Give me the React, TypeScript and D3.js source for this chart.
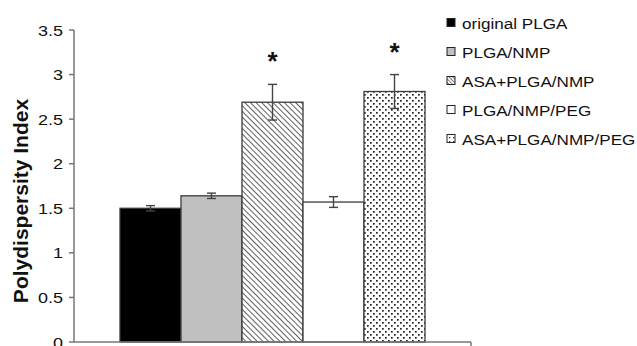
import React from "react";
import * as d3 from "d3";

// values
const categories = ["original PLGA", "PLGA/NMP", "ASA+PLGA/NMP", "PLGA/NMP/PEG", "ASA+PLGA/NMP/PEG"];
const values = [1.5, 1.64, 2.69, 1.57, 2.81];
const errors = [0.03, 0.03, 0.2, 0.06, 0.19];
const significant = [false, false, true, false, true];
const yTicks = [0, 0.5, 1, 1.5, 2, 2.5, 3, 3.5];
const fills = ["#000000", "#c0c0c0", "url(#hatch)", "#ffffff", "url(#dots)"];
const legendFills = ["#000000", "#c0c0c0", "url(#hatchSm)", "#ffffff", "url(#dotsSm)"];

const width = 637;
const height = 346;
const plot = { left: 74, right: 471, top: 30, bottom: 342 };

const App = () => {
  const y = d3.scaleLinear().domain([0, 3.5]).range([plot.bottom, plot.top]);
  const x = d3
    .scaleBand<string>()
    .domain(categories)
    .range([plot.left, plot.right])
    .paddingInner(0)
    .paddingOuter(0.754);
  const bw = x.bandwidth();
  const font = "Liberation Sans, Arial, sans-serif";

  return (
    <svg
      width={width}
      height={height}
      style={{ position: "absolute", left: 0, top: 0, background: "#fff" }}
      fontFamily={font}
    >
      <defs>
        <pattern id="hatch" width="4" height="4" patternUnits="userSpaceOnUse" patternTransform="rotate(-45)">
          <rect width="4" height="4" fill="#fff" />
          <line x1="0" y1="0" x2="0" y2="4" stroke="#1a1a1a" strokeWidth="1.4" />
        </pattern>
        <pattern id="hatchSm" width="2.6" height="2.6" patternUnits="userSpaceOnUse" patternTransform="rotate(-45)">
          <rect width="2.6" height="2.6" fill="#fff" />
          <line x1="0" y1="0" x2="0" y2="2.6" stroke="#222" strokeWidth="1.1" />
        </pattern>
        <pattern id="dots" width="6" height="6" patternUnits="userSpaceOnUse">
          <rect width="6" height="6" fill="#fff" />
          <rect x="1" y="1" width="1.7" height="1.7" fill="#222" />
          <rect x="4" y="4" width="1.7" height="1.7" fill="#222" />
        </pattern>
        <pattern id="dotsSm" width="4" height="4" patternUnits="userSpaceOnUse">
          <rect width="4" height="4" fill="#fff" />
          <rect x="1" y="1" width="1.3" height="1.3" fill="#333" />
        </pattern>
      </defs>

      {/* bars */}
      {categories.map((c, i) => (
        <rect
          key={c}
          x={x(c)}
          y={y(values[i])}
          width={bw}
          height={y(0) - y(values[i])}
          fill={fills[i]}
          stroke="#3a3a3a"
          strokeWidth={1.3}
        />
      ))}

      {/* error bars */}
      {categories.map((c, i) => {
        const cx = (x(c) as number) + bw / 2;
        const hi = y(values[i] + errors[i]);
        const lo = y(values[i] - errors[i]);
        return (
          <g key={c} stroke="#444" strokeWidth={1.4}>
            <line x1={cx} x2={cx} y1={hi} y2={lo} />
            <line x1={cx - 4.5} x2={cx + 4.5} y1={hi} y2={hi} />
            <line x1={cx - 4.5} x2={cx + 4.5} y1={lo} y2={lo} />
          </g>
        );
      })}

      {/* significance marks */}
      {categories.map((c, i) =>
        significant[i] ? (
          <text
            key={c}
            x={(x(c) as number) + bw / 2}
            y={y(values[i] + errors[i]) - 14}
            textAnchor="middle"
            fontSize={26}
            fontWeight="bold"
            fill="#111"
          >
            *
          </text>
        ) : null
      )}

      {/* axes */}
      <g stroke="#777" strokeWidth={1.5}>
        <line x1={plot.left} x2={plot.left} y1={plot.top} y2={plot.bottom} />
        <line x1={plot.left} x2={plot.right} y1={plot.bottom} y2={plot.bottom} />
        <line x1={plot.right} x2={plot.right} y1={plot.bottom} y2={plot.bottom + 5} />
        {yTicks.map((t) => (
          <line key={t} x1={plot.left - 5} x2={plot.left} y1={y(t)} y2={y(t)} />
        ))}
      </g>
      {yTicks.map((t) => (
        <text
          key={t}
          transform={`translate(63,${y(t) + 5.5}) scale(1.2,1)`}
          textAnchor="end"
          fontSize={15}
          fill="#111"
        >
          {t}
        </text>
      ))}

      <text
        transform={`translate(28,${(plot.top + plot.bottom) / 2 + 15}) rotate(-90)`}
        textAnchor="middle"
        fontSize={21}
        fontWeight="bold"
        fill="#111"
      >
        Polydispersity Index
      </text>

      {/* legend */}
      {categories.map((c, i) => {
        const ly = 23 + i * 29;
        return (
          <g key={c}>
            <rect x={447} y={ly - 4.5} width={8} height={8} fill={legendFills[i]} stroke="#222" strokeWidth={1} />
            <text transform={`translate(462,${ly + 5.5}) scale(1.14,1)`} fontSize={15} fill="#111">
              {c}
            </text>
          </g>
        );
      })}
    </svg>
  );
};

export default App;
